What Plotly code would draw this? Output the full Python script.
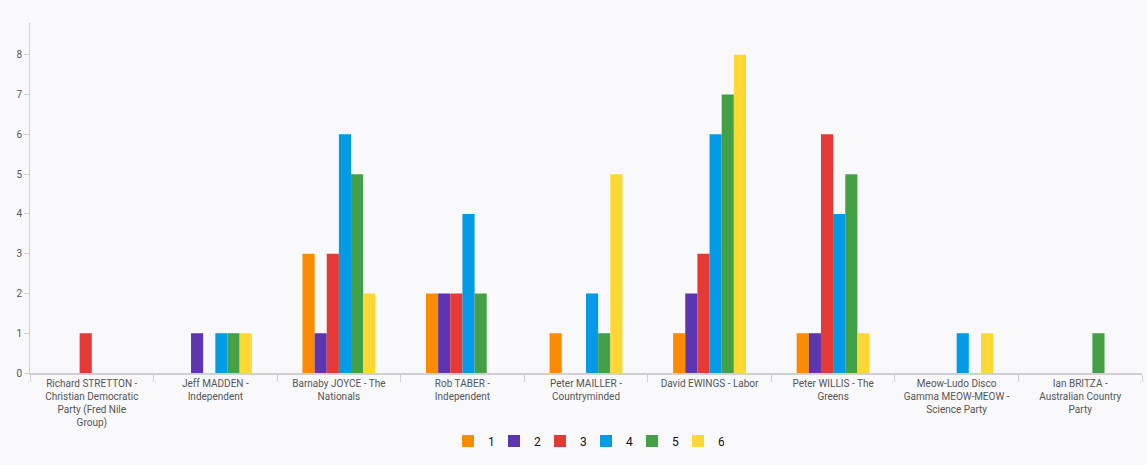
import plotly.graph_objects as go

categories = [
    "Richard STRETTON -<br>Christian Democratic<br>Party (Fred Nile<br>Group)",
    "Jeff MADDEN -<br>Independent",
    "Barnaby JOYCE - The<br>Nationals",
    "Rob TABER -<br>Independent",
    "Peter MAILLER -<br>Countryminded",
    "David EWINGS - Labor",
    "Peter WILLIS - The<br>Greens",
    "Meow-Ludo Disco<br>Gamma MEOW-MEOW -<br>Science Party",
    "Ian BRITZA -<br>Australian Country<br>Party",
]
series_names = ["1", "2", "3", "4", "5", "6"]
s1 = [0, 0, 3, 2, 1, 1, 1, 0, 0]
s2 = [0, 1, 1, 2, 0, 2, 1, 0, 0]
s3 = [1, 0, 3, 2, 0, 3, 6, 0, 0]
s4 = [0, 1, 6, 4, 2, 6, 4, 1, 0]
s5 = [0, 1, 5, 2, 1, 7, 5, 0, 1]
s6 = [0, 1, 2, 0, 5, 8, 1, 1, 0]
series_values = [s1, s2, s3, s4, s5, s6]
colors = ["#FB8C00", "#5E35B1", "#E53935", "#039BE5", "#43A047", "#FDD835"]

fig = go.Figure()
for name, vals, c in zip(series_names, series_values, colors):
    fig.add_trace(go.Bar(x=categories, y=vals, name=name, marker=dict(color=c, line=dict(width=0))))

fig.update_layout(
    width=1147, height=465,
    paper_bgcolor="#F9F9FC", plot_bgcolor="#F9F9FC",
    margin=dict(l=30, r=5, t=23, b=92, autoexpand=False),
    barmode="group", bargap=0.41, bargroupgap=0,
    font=dict(family="Roboto, sans-serif", size=10, color="#555555"),
    showlegend=True,
    legend=dict(orientation="h", x=0.5, xanchor="center", y=-0.153, yanchor="top",
                font=dict(size=12, color="#111111"), itemwidth=30,
                entrywidth=1, entrywidthmode="pixels", traceorder="normal"),
)
fig.update_xaxes(
    showgrid=False, showline=True, linecolor="#d0d0d4", linewidth=1.5,
    ticks="outside", tickson="boundaries", ticklen=7, tickcolor="#d0d0d4",
    tickfont=dict(size=10, color="#555555"),
)
fig.update_yaxes(
    range=[0, 8.8], dtick=1, showgrid=False, zeroline=False,
    showline=True, linecolor="#d0d0d4", linewidth=1,
    ticks="outside", ticklen=5, tickcolor="#d0d0d4",
    tickfont=dict(size=10, color="#555555"),
)
fig.write_html(
    "out.html",
    config={"displayModeBar": False},
    post_script="document.body.style.margin='0';document.body.style.background='#F9F9FC';",
)
